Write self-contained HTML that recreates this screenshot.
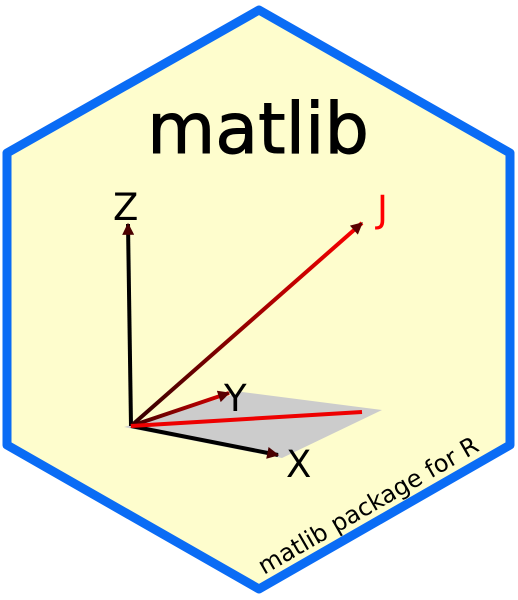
<!DOCTYPE html>
<html><head><meta charset="utf-8"><style>html,body{margin:0;padding:0;background:#fff}svg{display:block}</style></head>
<body>
<svg width="518" height="600" viewBox="0 0 518 600">
<defs>
<marker id="ah" viewBox="0 0 10 10" refX="9" refY="5" markerWidth="4" markerHeight="3" orient="auto"><path d="M0,0L10,5L0,10z" fill="#5a0000"/></marker>
<marker id="ak" viewBox="0 0 10 10" refX="9" refY="5" markerWidth="4" markerHeight="3" orient="auto"><path d="M0,0L10,5L0,10z" fill="#4a0000"/></marker>
<linearGradient id="jg" gradientUnits="userSpaceOnUse" x1="131" y1="426" x2="362" y2="223"><stop offset="0" stop-color="#300000"/><stop offset="1" stop-color="#ff0000"/></linearGradient>
<linearGradient id="yg" gradientUnits="userSpaceOnUse" x1="131" y1="426" x2="229" y2="393"><stop offset="0" stop-color="#400000"/><stop offset="1" stop-color="#dd0000"/></linearGradient>
</defs>
<polygon points="259,10 510,153 510,445 259,589 7,445 7,153" fill="#fefdcd" stroke="#0a6cf5" stroke-width="9" stroke-linejoin="round"/>
<text x="258" y="153" text-anchor="middle" font-family="DejaVu Sans, Liberation Sans, sans-serif" font-size="70" stroke="#000" stroke-width="1" fill="#000">matlib</text>
<polygon points="124,427 242,392 382,410 282,458" fill="#cccccc"/>
<line x1="131" y1="426" x2="128" y2="224" stroke="#000" stroke-width="4" marker-end="url(#ak)"/>
<line x1="131" y1="426" x2="278" y2="455" stroke="#000" stroke-width="4" marker-end="url(#ak)"/>
<line x1="131" y1="426" x2="229" y2="393" stroke="url(#yg)" stroke-width="4" marker-end="url(#ah)"/>
<line x1="131" y1="426" x2="362" y2="223" stroke="url(#jg)" stroke-width="4" marker-end="url(#ah)"/>
<line x1="131" y1="426" x2="362" y2="412" stroke="#ee0000" stroke-width="4"/>
<g font-family="DejaVu Sans, Liberation Sans, sans-serif" font-size="37">
<text x="113" y="220">Z</text>
<text x="377" y="222" fill="#ff0000">J</text>
<text x="224" y="411">Y</text>
<text x="286" y="477">X</text>
</g>
<text transform="translate(264,575) rotate(-30)" font-family="DejaVu Sans, Liberation Sans, sans-serif" font-size="24" fill="#000">matlib package for R</text>
</svg>
</body></html>
